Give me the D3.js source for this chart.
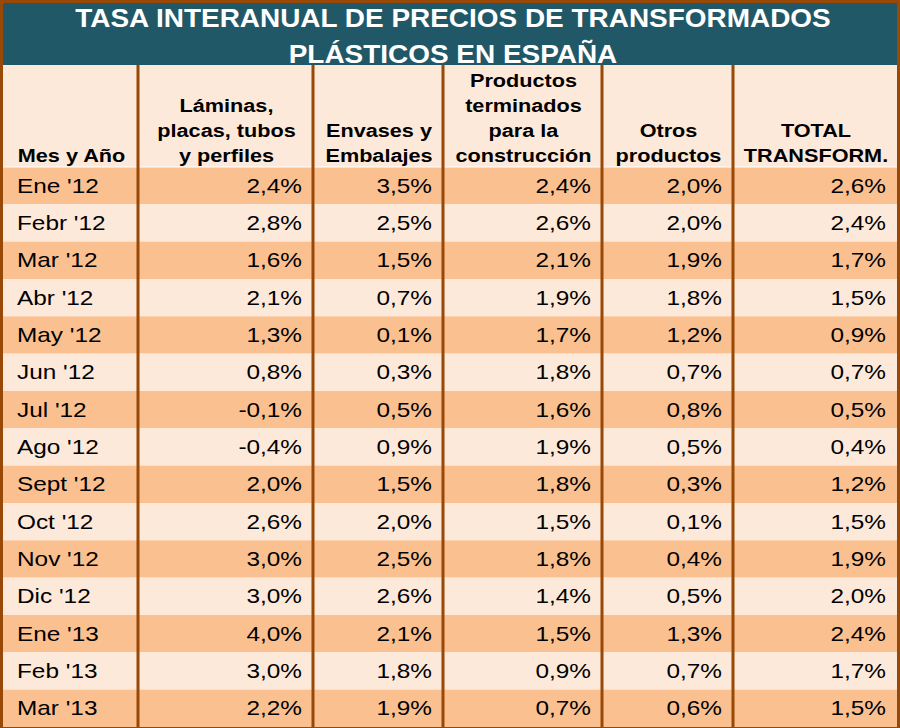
<!DOCTYPE html>
<html>
<head>
<meta charset="utf-8">
<script src="https://cdn.jsdelivr.net/npm/d3@7"></script>
<style>
  html, body { margin: 0; padding: 0; background: #fff; }
  svg { display: block; }
</style>
</head>
<body>
<div id="chart"></div>
<script>
// data
const titleLines = ["TASA INTERANUAL DE PRECIOS DE TRANSFORMADOS", "PLÁSTICOS EN ESPAÑA"];
const headers = [
    ["Mes y Año"],
    ["Láminas,", "placas, tubos", "y perfiles"],
    ["Envases y", "Embalajes"],
    ["Productos", "terminados", "para la", "construcción"],
    ["Otros", "productos"],
    ["TOTAL", "TRANSFORM."]
];
const months = ["Ene '12", "Febr '12", "Mar '12", "Abr '12", "May '12", "Jun '12", "Jul '12",
    "Ago '12", "Sept '12", "Oct '12", "Nov '12", "Dic '12", "Ene '13", "Feb '13", "Mar '13"];
const laminas = [2.4, 2.8, 1.6, 2.1, 1.3, 0.8, -0.1, -0.4, 2.0, 2.6, 3.0, 3.0, 4.0, 3.0, 2.2];
const envases = [3.5, 2.5, 1.5, 0.7, 0.1, 0.3, 0.5, 0.9, 1.5, 2.0, 2.5, 2.6, 2.1, 1.8, 1.9];
const construccion = [2.4, 2.6, 2.1, 1.9, 1.7, 1.8, 1.6, 1.9, 1.8, 1.5, 1.8, 1.4, 1.5, 0.9, 0.7];
const otros = [2.0, 2.0, 1.9, 1.8, 1.2, 0.7, 0.8, 0.5, 0.3, 0.1, 0.4, 0.5, 1.3, 0.7, 0.6];
const total = [2.6, 2.4, 1.7, 1.5, 0.9, 0.7, 0.5, 0.4, 1.2, 1.5, 1.9, 2.0, 2.4, 1.7, 1.5];

const series = [laminas, envases, construccion, otros, total];

const cfg = {
    width: 900,
    height: 728,
    titleH: 65,
    headerH: 102,
    colEdges: [3, 138, 313, 443, 602, 733, 897],
    teal: "#215868",
    dark: "#fac090",
    light: "#fde9d9",
    brown: "#984807",
    font: "'Liberation Sans', Arial, sans-serif",
    // the picture's text is a bit wider than the font, so stretch it
    titleStretch: 1.055,
    headStretch: 1.14,
    bodyStretch: 1.16
};

const fmt = v => d3.format(".1f")(v).replace(".", ",").replace("−", "-") + "%";
const place = (x, y, s) => "translate(" + x + "," + y + ") scale(" + s + ",1)";

const svg = d3.select("#chart").append("svg")
    .attr("width", cfg.width)
    .attr("height", cfg.height)
    .style("font-family", cfg.font);

const colIdx = d3.range(headers.length);
const x0 = d3.scaleOrdinal().domain(colIdx).range(cfg.colEdges.slice(0, -1));
const x1 = d3.scaleOrdinal().domain(colIdx).range(cfg.colEdges.slice(1));

const rowTop = cfg.titleH + cfg.headerH;
const y = d3.scaleBand()
    .domain(months)
    .range([rowTop, cfg.height - 1])
    .padding(0);

// title band
svg.append("rect")
    .attr("x", 0).attr("y", 0)
    .attr("width", cfg.width).attr("height", cfg.titleH)
    .attr("fill", cfg.teal);

svg.append("g").selectAll("text")
    .data(titleLines)
    .join("text")
    .attr("transform", (d, i) => place(453, 27 + i * 36, cfg.titleStretch))
    .attr("text-anchor", "middle")
    .attr("fill", "#fff")
    .attr("font-weight", "bold")
    .attr("font-size", 26.5)
    .text(d => d);

// header background
svg.append("rect")
    .attr("x", 0).attr("y", cfg.titleH)
    .attr("width", cfg.width).attr("height", cfg.headerH)
    .attr("fill", cfg.light);

// rows
svg.append("g").selectAll("rect")
    .data(months)
    .join("rect")
    .attr("x", 0)
    .attr("y", d => y(d))
    .attr("width", cfg.width)
    .attr("height", y.bandwidth())
    .attr("fill", (d, i) => i % 2 === 0 ? cfg.dark : cfg.light);

// header labels, bottom aligned
const lineH = 25;
const hdr = svg.append("g").attr("font-weight", "bold").attr("font-size", 19).attr("fill", "#000");
headers.forEach((lines, c) => {
    const cx = (x0(c) + x1(c)) / 2 + 1;
    hdr.append("g").selectAll("text")
        .data(lines)
        .join("text")
        .attr("transform", (d, i) => place(cx, rowTop - 5 - (lines.length - 1 - i) * lineH, cfg.headStretch))
        .attr("text-anchor", "middle")
        .text(d => d);
});

// white line under header
svg.append("line")
    .attr("x1", 0).attr("x2", cfg.width)
    .attr("y1", rowTop).attr("y2", rowTop)
    .attr("stroke", "#fff").attr("stroke-width", 1);

// month labels
const body = svg.append("g").attr("font-size", 21).attr("fill", "#000");
body.append("g").selectAll("text")
    .data(months)
    .join("text")
    .attr("transform", d => place(x0(0) + 14, y(d) + y.bandwidth() / 2 + 7, cfg.bodyStretch))
    .text(d => d);

// values
series.forEach((vals, s) => {
    const c = s + 1;
    body.append("g").selectAll("text")
        .data(vals)
        .join("text")
        .attr("transform", (d, i) => place(x1(c) - 11, y(months[i]) + y.bandwidth() / 2 + 7, cfg.bodyStretch))
        .attr("text-anchor", "end")
        .text(d => fmt(d));
});

// column lines
svg.append("g").selectAll("line")
    .data(cfg.colEdges.slice(1, -1))
    .join("line")
    .attr("x1", d => d).attr("x2", d => d)
    .attr("y1", cfg.titleH).attr("y2", cfg.height)
    .attr("stroke", cfg.brown)
    .attr("stroke-width", 3);

// outer border
svg.append("rect")
    .attr("x", 1.5).attr("y", 1.5)
    .attr("width", cfg.width - 3)
    .attr("height", cfg.height - 1)
    .attr("fill", "none")
    .attr("stroke", cfg.brown)
    .attr("stroke-width", 3);
</script>
</body>
</html>
